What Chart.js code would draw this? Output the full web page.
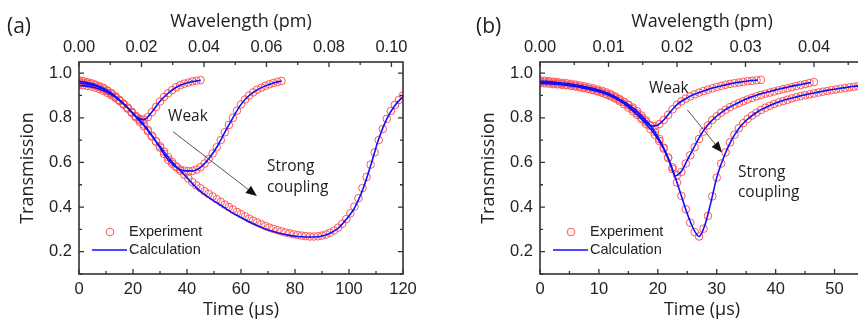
<!DOCTYPE html>
<html>
<head>
<meta charset="utf-8">
<script src="https://cdn.jsdelivr.net/npm/chart.js@4.4.1/dist/chart.umd.min.js"></script>
<style>
  html, body { margin: 0; padding: 0; background: #fff; overflow: hidden; }
  #wrap { position: relative; width: 858px; height: 325px; overflow: hidden; }
  canvas { position: absolute; top: 0; }
  #chartA { left: 0; }
  #chartB { left: 430px; }
  .tag { position: absolute; top: 12px; font: 21px 'Open Sans'; color: #222; line-height: 26px; }
</style>
</head>
<body>
<div id="wrap">
  <canvas id="chartA" width="430" height="325"></canvas>
  <canvas id="chartB" width="440" height="325"></canvas>
  <div class="tag" style="left:7px">(a)</div>
  <div class="tag" style="left:476px">(b)</div>
</div>
<script>
// ---- panel (a): time axis 0-120 us ----
const expStepA = 1.5;   // us between measured points
const calcStepA = 3;
const expA1 = [0.968,0.964,0.96,0.955,0.949,0.942,0.934,0.923,0.911,0.896,0.88,0.863,0.845,0.826,0.807,0.795,0.792,0.803,0.825,0.848,0.873,0.893,0.91,0.924,0.937,0.946,0.953,0.958,0.963,0.966,0.969];
const expA2 = [0.96,0.957,0.954,0.95,0.945,0.938,0.93,0.92,0.908,0.894,0.878,0.862,0.845,0.827,0.808,0.79,0.77,0.746,0.72,0.694,0.666,0.638,0.612,0.594,0.579,0.569,0.563,0.561,0.562,0.568,0.579,0.595,0.615,0.64,0.668,0.70,0.735,0.768,0.80,0.832,0.86,0.882,0.9,0.914,0.926,0.935,0.943,0.95,0.956,0.961,0.965];
const expA3 = [0.948,0.946,0.943,0.94,0.935,0.929,0.921,0.912,0.901,0.889,
  0.875,0.859,0.841,0.822,0.802,0.782,0.762,0.74,0.716,0.694,
  0.672,0.648,0.624,0.602,0.582,0.563,0.545,0.528,0.512,0.497,
  0.484,0.471,0.459,0.447,0.435,0.423,0.411,0.4,0.389,0.378,
  0.368,0.358,0.348,0.339,0.331,0.323,0.315,0.308,0.302,0.296,
  0.291,0.286,0.282,0.278,0.275,0.272,0.27,0.268,0.268,0.269,
  0.272,0.277,0.285,0.295,0.308,0.325,0.346,0.372,0.402,0.44,
  0.485,0.535,0.59,0.645,0.7,0.75,0.795,0.83,0.858,0.88,0.9];
const calcA1 = [0.965,0.958,0.948,0.932,0.91,0.88,0.845,0.806,0.791,0.826,0.874,0.91,0.937,0.953,0.962,0.968];
const calcA2 = [0.957,0.952,0.944,0.93,0.908,0.878,0.845,0.808,0.77,0.722,0.665,0.612,0.578,0.563,0.562,0.578,0.615,0.668,0.735,0.8,0.86,0.9,0.925,0.943,0.956,0.965];
const calcA3 = [0.945,0.942,0.935,0.922,0.903,0.878,0.845,0.805,0.765,0.718,0.672,0.624,0.582,0.545,0.505,0.47,0.443,0.42,0.396,0.373,0.353,0.334,0.317,0.302,0.29,0.28,0.273,0.268,0.266,0.266,0.27,0.283,0.305,0.345,0.395,0.475,0.585,0.705,0.795,0.855,0.895];

// ---- panel (b): time axis 0-55 us ----
const expStepB = 0.75;
const calcStepB = 1;
const expB1 = [0.968,0.966,0.964,0.962,0.96,0.957,0.955,0.952,0.949,0.945,
  0.941,0.937,0.932,0.927,0.921,0.914,0.906,0.896,0.884,0.871,
  0.856,0.839,0.82,0.8,0.781,0.767,0.762,0.772,0.79,0.813,
  0.838,0.858,0.874,0.886,0.896,0.905,0.913,0.92,0.926,0.932,
  0.938,0.943,0.948,0.952,0.955,0.958,0.961,0.964,0.966,0.968,0.97];
const expB2 = [0.963,0.961,0.959,0.957,0.954,0.951,0.948,0.945,0.942,0.938,
  0.934,0.93,0.925,0.919,0.913,0.905,0.896,0.886,0.874,0.861,
  0.846,0.83,0.813,0.794,0.772,0.749,0.724,0.696,0.662,0.622,
  0.578,0.543,0.557,0.595,0.632,0.668,0.705,0.738,0.766,0.79,
  0.807,0.823,0.836,0.848,0.858,0.866,0.874,0.882,0.889,0.896,
  0.902,0.908,0.913,0.918,0.923,0.928,0.932,0.937,0.942,0.947,
  0.951,0.956,0.96];
const expB3 = [0.955,0.954,0.953,0.951,0.95,0.948,0.946,0.943,0.94,0.937,
  0.933,0.929,0.924,0.919,0.913,0.907,0.9,0.891,0.881,0.871,
  0.859,0.846,0.829,0.81,0.788,0.764,0.737,0.705,0.666,0.62,
  0.57,0.51,0.45,0.39,0.33,0.288,0.268,0.303,0.36,0.448,
  0.532,0.595,0.645,0.69,0.724,0.753,0.776,0.795,0.81,0.823,
  0.835,0.845,0.854,0.862,0.869,0.875,0.881,0.887,0.892,0.897,
  0.901,0.905,0.909,0.913,0.917,0.92,0.924,0.927,0.93,0.933,
  0.936,0.939,0.942];
const calcB1 = [0.965,0.963,0.961,0.958,0.955,0.952,0.948,0.943,0.938,0.932,0.924,0.915,0.905,0.891,0.875,0.854,0.83,0.804,0.78,0.763,0.768,0.79,0.822,0.853,0.874,0.89,0.903,0.913,0.922,0.931,0.938,0.945,0.951,0.956,0.96,0.964,0.967,0.969];
const calcB2 = [0.96,0.958,0.956,0.953,0.95,0.947,0.943,0.938,0.933,0.926,0.918,0.909,0.898,0.884,0.868,0.848,0.825,0.8,0.772,0.742,0.705,0.66,0.6,0.54,0.56,0.61,0.66,0.71,0.752,0.783,0.808,0.828,0.845,0.859,0.872,0.884,0.894,0.903,0.911,0.918,0.925,0.931,0.937,0.943,0.948,0.953,0.958];
const calcB3 = [0.955,0.953,0.952,0.95,0.947,0.944,0.94,0.935,0.93,0.924,0.917,0.909,0.9,0.888,0.875,0.859,0.84,0.815,0.788,0.755,0.715,0.665,0.605,0.53,0.45,0.37,0.305,0.268,0.32,0.42,0.532,0.61,0.673,0.722,0.76,0.788,0.81,0.828,0.842,0.855,0.866,0.875,0.883,0.89,0.897,0.903,0.909,0.914,0.919,0.924,0.928,0.932,0.936,0.94,0.943,0.946];

const RED = '#ff5555';
const BLUE = '#0f0fff';
const INK = '#222';
const tickFont = { family: "'Liberation Sans', Arial, sans-serif", size: 16.5 };
const titleFont = { family: "'Open Sans', sans-serif", size: 18 };

function pts(vals, step) {
  return vals.map((v, i) => ({ x: i * step, y: v }));
}

function seriesSets(exps, calcs, expStep, calcStep) {
  const sets = [];
  calcs.forEach(c => sets.push({
    data: pts(c, calcStep), borderColor: BLUE, borderWidth: 1.6,
    pointRadius: 0, fill: false, cubicInterpolationMode: 'monotone', order: 0
  }));
  exps.forEach(e => sets.push({
    data: pts(e, expStep), showLine: false, pointRadius: 3.8, pointBorderWidth: 1,
    pointBorderColor: RED, pointBackgroundColor: 'rgba(0,0,0,0)', order: 1
  }));
  return sets;
}

// frame with inward major/minor ticks
const frameTicks = {
  id: 'frameTicks',
  afterDatasetsDraw(chart, args, o) {
    const { ctx, chartArea: a, scales } = chart;
    ctx.save();
    ctx.strokeStyle = '#333';
    ctx.lineWidth = 1.6;
    ctx.strokeRect(a.left, a.top, a.right - a.left, a.bottom - a.top);
    ctx.lineWidth = 1.3;
    const marks = (sc, minor) => {
      const out = [];
      for (let k = 0; k * minor <= sc.max + 1e-9; k++) {
        out.push({ v: k * minor, major: k % 2 === 0 });
      }
      return out;
    };
    ctx.beginPath();
    marks(scales.x, o.xMinor).forEach(m => {
      const p = scales.x.getPixelForValue(m.v), L = m.major ? 5 : 3;
      ctx.moveTo(p, a.bottom); ctx.lineTo(p, a.bottom - L);
    });
    marks(scales.x2, o.x2Minor).forEach(m => {
      const p = scales.x2.getPixelForValue(m.v), L = m.major ? 5 : 3;
      ctx.moveTo(p, a.top); ctx.lineTo(p, a.top + L);
    });
    marks(scales.y, 0.1).forEach(m => {
      if (m.v < scales.y.min - 1e-9) return;
      const p = scales.y.getPixelForValue(m.v), L = m.major ? 5 : 3;
      ctx.moveTo(a.left, p); ctx.lineTo(a.left + L, p);
      ctx.moveTo(a.right, p); ctx.lineTo(a.right - L, p);
    });
    ctx.stroke();
    ctx.restore();
  }
};

// "Weak" -> "Strong coupling" note with arrow
const notes = {
  id: 'notes',
  afterDatasetsDraw(chart, args, o) {
    const { ctx, scales: { x, y } } = chart;
    ctx.save();
    ctx.fillStyle = INK;
    ctx.font = "15.5px 'Open Sans'";
    ctx.textBaseline = 'middle';
    ctx.textAlign = 'left';
    o.labels.forEach(l => ctx.fillText(l.text, x.getPixelForValue(l.t), y.getPixelForValue(l.v)));
    const x0 = x.getPixelForValue(o.arrow[0]), y0 = y.getPixelForValue(o.arrow[1]);
    const x1 = x.getPixelForValue(o.arrow[2]), y1 = y.getPixelForValue(o.arrow[3]);
    const ang = Math.atan2(y1 - y0, x1 - x0);
    const hl = 11, hw = 4.5;
    const bx = x1 - hl * Math.cos(ang), by = y1 - hl * Math.sin(ang);
    ctx.strokeStyle = '#555';
    ctx.lineWidth = 1;
    ctx.beginPath(); ctx.moveTo(x0, y0); ctx.lineTo(bx, by); ctx.stroke();
    ctx.fillStyle = '#111';
    ctx.beginPath();
    ctx.moveTo(x1, y1);
    ctx.lineTo(bx + hw * Math.sin(ang), by - hw * Math.cos(ang));
    ctx.lineTo(bx - hw * Math.sin(ang), by + hw * Math.cos(ang));
    ctx.closePath(); ctx.fill();
    ctx.restore();
  }
};

// legend in lower-left corner of the plot
const cornerLegend = {
  id: 'cornerLegend',
  afterDatasetsDraw(chart) {
    const { ctx, chartArea: a } = chart;
    const yE = a.bottom - 42, yC = a.bottom - 24;
    ctx.save();
    ctx.strokeStyle = RED; ctx.lineWidth = 1;
    ctx.beginPath(); ctx.arc(a.left + 31, yE, 3.8, 0, Math.PI * 2); ctx.stroke();
    ctx.strokeStyle = BLUE; ctx.lineWidth = 1.6;
    ctx.beginPath(); ctx.moveTo(a.left + 13, yC); ctx.lineTo(a.left + 48, yC); ctx.stroke();
    ctx.fillStyle = INK;
    ctx.font = "14.5px 'Liberation Sans', Arial, sans-serif";
    ctx.textBaseline = 'middle';
    ctx.fillText('Experiment', a.left + 50, yE);
    ctx.fillText('Calculation', a.left + 50, yC);
    ctx.restore();
  }
};

function makeChart(id, c) {
  return new Chart(document.getElementById(id), {
    type: 'line',
    data: { datasets: c.datasets },
    plugins: [frameTicks, cornerLegend, notes],
    options: {
      responsive: false,
      animation: false,
      layout: { padding: { left: 0, right: c.padRight, top: 0, bottom: 0 } },
      plugins: {
        legend: { display: false },
        tooltip: { enabled: false },
        frameTicks: { xMinor: c.tStep / 2, x2Minor: c.wStep / 2 },
        notes: c.notes
      },
      scales: {
        x: {
          type: 'linear', position: 'bottom', min: 0, max: c.tMax,
          afterFit: s => { s.height = 51; },
          grid: { display: false, drawTicks: false }, border: { display: false },
          ticks: { stepSize: c.tStep, includeBounds: false, padding: 6, font: tickFont, color: INK, maxRotation: 0, autoSkip: false },
          title: { display: true, text: 'Time (µs)', font: titleFont, color: INK, padding: { top: 0, bottom: 4 } }
        },
        x2: {
          type: 'linear', position: 'top', min: 0, max: c.wMax,
          afterFit: s => { s.height = 62; },
          grid: { display: false, drawTicks: false }, border: { display: false },
          ticks: { stepSize: c.wStep, includeBounds: false, padding: 5, font: tickFont, color: INK, maxRotation: 0, autoSkip: false,
                   callback: v => v.toFixed(2) },
          title: { display: true, text: 'Wavelength (pm)', font: titleFont, color: INK, padding: { top: 11, bottom: 0 } }
        },
        y: {
          min: 0.1, max: 1.05,
          afterFit: s => { s.width = c.yWidth; },
          grid: { display: false, drawTicks: false }, border: { display: false },
          ticks: { stepSize: 0.2, includeBounds: false, padding: 7, font: tickFont, color: INK,
                   callback: v => v.toFixed(1) },
          title: { display: true, text: 'Transmission', font: titleFont, color: INK, padding: { top: c.yTitlePad, bottom: 0 } }
        }
      }
    }
  });
}

makeChart('chartA', {
  datasets: seriesSets([expA1, expA2, expA3], [calcA1, calcA2, calcA3], expStepA, calcStepA),
  tMax: 120, tStep: 20, wMax: 0.1037, wStep: 0.02,
  yWidth: 79, yTitlePad: 17, padRight: 27,
  notes: {
    labels: [{ t: 33, v: 0.804, text: 'Weak' }, { t: 69.6, v: 0.582, text: 'Strong' }, { t: 69.6, v: 0.489, text: 'coupling' }],
    arrow: [34.8, 0.738, 65.9, 0.449]
  }
});

makeChart('chartB', {
  datasets: seriesSets([expB1, expB2, expB3], [calcB1, calcB2, calcB3], expStepB, calcStepB),
  tMax: 55, tStep: 10, wMax: 0.0473, wStep: 0.01,
  yWidth: 110, yTitlePad: 48, padRight: 6,
  notes: {
    labels: [{ t: 18.5, v: 0.929, text: 'Weak' }, { t: 33.6, v: 0.556, text: 'Strong' }, { t: 33.6, v: 0.467, text: 'coupling' }],
    arrow: [25, 0.836, 30.9, 0.644]
  }
});
</script>
</body>
</html>
